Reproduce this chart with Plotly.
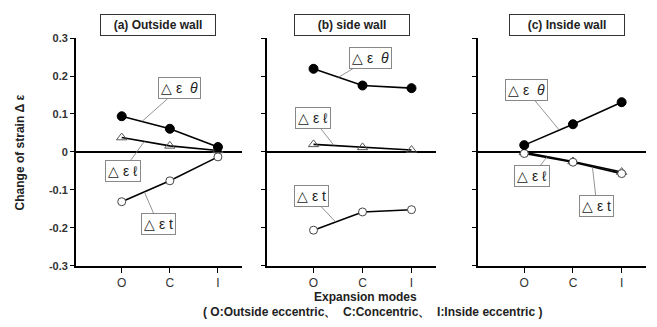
import plotly.graph_objects as go
import numpy as np

modes = ["O", "C", "I"]
xpos = [1, 2, 3]

# Outside wall
a_theta = [0.094, 0.061, 0.013]
a_ell = [0.038, 0.016, 0.004]
a_t = [-0.131, -0.076, -0.013]
# side wall
b_theta = [0.219, 0.175, 0.168]
b_ell = [0.020, 0.012, 0.005]
b_t = [-0.206, -0.158, -0.152]
# Inside wall
c_theta = [0.018, 0.073, 0.131]
c_ell = [-0.001, -0.025, -0.053]
c_t = [-0.004, -0.027, -0.057]

ytick_vals = [-0.3, -0.2, -0.1, 0, 0.1, 0.2, 0.3]
ytick_text = ["-0.3", "-0.2", "-0.1", "0", "0.1", "0.2", "0.3"]

panel_titles = ["(a) Outside wall", "(b) side wall", "(c) Inside wall"]
lab_theta = "△ ε  <i>θ</i>"
lab_ell = "△ ε ℓ"
lab_t = "△ ε t"

FONT = "Liberation Sans"
W, H = 641, 311  # page body adds an 8px margin around the figure


def px(x):
    return (x - 8) / W


def py(y):
    return 1 - (y - 8) / H


fig = go.Figure()

domains = [[px(76), px(242)], [px(267), px(436)], [px(478), px(646)]]
ydom = [py(270), py(33)]

panels = [(a_theta, a_ell, a_t), (b_theta, b_ell, b_t), (c_theta, c_ell, c_t)]

# label placement: (label, series, box x, box y, target x)
label_specs = [
    [(lab_theta, 0, 2.2, 0.168, 1.42), (lab_ell, 1, 1.02, -0.051, 1.47), (lab_t, 2, 1.76, -0.190, 1.47)],
    [(lab_theta, 0, 2.16, 0.247, 1.51), (lab_ell, 1, 0.98, 0.089, 1.42), (lab_t, 2, 0.96, -0.117, 1.45)],
    [(lab_theta, 0, 1.04, 0.163, 1.72), (lab_ell, 1, 1.16, -0.064, 1.47), (lab_t, 2, 2.49, -0.142, 2.40)],
]

for i, (th, el, tt) in enumerate(panels):
    xa = "x" if i == 0 else f"x{i+1}"
    ya = "y" if i == 0 else f"y{i+1}"
    common = dict(x=xpos, mode="lines+markers", xaxis=xa, yaxis=ya, showlegend=False,
                  line=dict(color="black", width=1.6))
    fig.add_trace(go.Scatter(y=el, marker=dict(symbol="triangle-up-open", size=9, color="#555",
                                               line=dict(width=1, color="#555")), **common))
    fig.add_trace(go.Scatter(y=tt, marker=dict(symbol="circle", size=8, color="white",
                                               line=dict(width=1, color="#444")), **common))
    fig.add_trace(go.Scatter(y=th, marker=dict(symbol="circle", size=9, color="black",
                                               line=dict(width=1, color="black")), **common))
    sfx = "" if i == 0 else str(i + 1)
    fig.layout["xaxis" + sfx] = dict(
        domain=domains[i], anchor=ya, range=[0.05, 3.5], tickvals=xpos, ticktext=modes,
        ticks="outside", ticklen=5, tickwidth=1.2, tickcolor="black", showline=True,
        linecolor="black", linewidth=1.8, showgrid=False, zeroline=False,
        tickfont=dict(family=FONT, size=12, color="#333"), fixedrange=True,
    )
    fig.layout["yaxis" + sfx] = dict(
        domain=ydom, anchor=xa, range=[-0.3, 0.3], tickvals=ytick_vals,
        ticktext=["<b>" + t + "</b>" for t in ytick_text], showticklabels=(i == 0),
        ticks="outside", ticklen=4,
        tickwidth=1.2, tickcolor="black", showline=True, linecolor="black", linewidth=1.8,
        showgrid=False, zeroline=True, zerolinecolor="black", zerolinewidth=1.5,
        tickfont=dict(family=FONT, size=11, color="#333"), fixedrange=True,
    )
    series = [th, el, tt]
    for (txt, si, bx, by, tx) in label_specs[i]:
        ty = float(np.interp(tx, xpos, series[si]))
        fig.add_annotation(
            x=tx, y=ty, xref=xa, yref=ya, ax=bx, ay=by, axref=xa, ayref=ya,
            text=txt, showarrow=True, arrowhead=0, arrowwidth=0.8, arrowcolor="#777",
            standoff=0, bgcolor="white", bordercolor="#888", borderwidth=1, borderpad=2,
            font=dict(family=FONT, size=14, color="#222"),
        )
    # panel title box
    cx = [158, 352, 567][i]
    fig.add_annotation(
        x=px(cx), y=py(19), xref="paper", yref="paper", xanchor="center", yanchor="middle",
        text="<b>" + panel_titles[i] + "</b>",
        showarrow=False, bgcolor="white", bordercolor="#333", borderwidth=1, borderpad=3,
        width=108, font=dict(family=FONT, size=12, color="#222"),
    )

fig.add_annotation(x=px(20), y=py(152), xref="paper", yref="paper", xanchor="center",
                   yanchor="middle", text="<b>Change of strain Δ ε</b>", textangle=-90,
                   showarrow=False, font=dict(family=FONT, size=12, color="#222"))
fig.add_annotation(x=px(365), y=py(302), xref="paper", yref="paper", xanchor="center",
                   yanchor="middle", text="<b>Expansion modes</b>", showarrow=False,
                   font=dict(family=FONT, size=12, color="#222"))
fig.add_annotation(x=px(372), y=py(318), xref="paper", yref="paper", xanchor="center",
                   yanchor="middle",
                   text="<b>( O:Outside eccentric、  C:Concentric、  I:Inside eccentric )</b>",
                   showarrow=False, font=dict(family=FONT, size=12, color="#222"))

fig.update_layout(width=W, height=H, margin=dict(l=0, r=0, t=0, b=0),
                  paper_bgcolor="white", plot_bgcolor="white")
fig.write_html("out.html")
